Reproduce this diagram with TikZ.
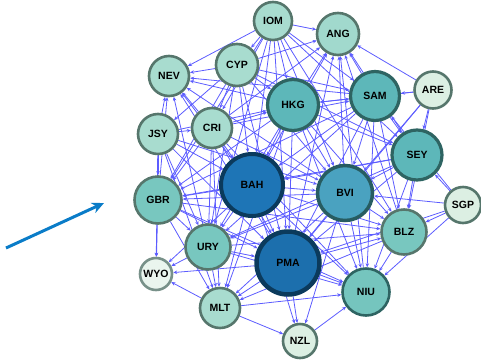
\documentclass[tikz,border=0pt]{standalone}
\usepackage{fontspec}
\setmainfont{Liberation Sans}
\usetikzlibrary{arrows.meta, backgrounds}

\definecolor{pale}{HTML}{DCEFE3}
\definecolor{mint}{HTML}{A8DCCF}
\definecolor{teal}{HTML}{78C7BF}
\definecolor{sea}{HTML}{5DB7B9}
\definecolor{ocean}{HTML}{4AA2C0}
\definecolor{deep}{HTML}{1E75B6}
\definecolor{rimlight}{HTML}{56766C}
\definecolor{rimmid}{HTML}{2E6462}
\definecolor{rimdeep}{HTML}{0B3A5C}
\definecolor{linkblue}{HTML}{5C5CFF}
\definecolor{pointer}{HTML}{0A7CC8}

\begin{document}
\begin{tikzpicture}[x=1pt, y=-1pt,
    country/.style={circle, draw=rimlight, line width=2.6pt, inner sep=0pt,
        font=\fontsize{10.5}{12}\selectfont\bfseries},
    link/.style={draw=linkblue, line width=0.8pt, -{Stealth[length=4pt, width=3.5pt]}}]
    \useasboundingbox (0,0) rectangle (481,362);

    \node[country, fill=mint, minimum size=38pt] (IOM) at (273,21) {IOM};
    \node[country, fill=mint!85!teal, minimum size=42pt] (ANG) at (338,34) {ANG};
    \node[country, fill=mint, minimum size=42pt] (CYP) at (237,65) {CYP};
    \node[country, fill=mint, minimum size=40pt] (NEV) at (169,76) {NEV};
    \node[country, fill=sea, draw=rimmid, line width=3.2pt, minimum size=51pt] (HKG) at (293,105) {HKG};
    \node[country, fill=sea, draw=rimmid, line width=3.2pt, minimum size=49pt] (SAM) at (375,96) {SAM};
    \node[country, fill=pale, minimum size=37pt] (ARE) at (433,90) {ARE};
    \node[country, fill=mint, minimum size=40pt] (JSY) at (158,134) {JSY};
    \node[country, fill=mint, minimum size=40pt] (CRI) at (212,128) {CRI};
    \node[country, fill=sea, draw=rimmid, line width=3.2pt, minimum size=50pt] (SEY) at (417,155) {SEY};
    \node[country, fill=deep, draw=rimdeep, line width=4pt, minimum size=62pt] (BAH) at (252,185) {BAH};
    \node[country, fill=ocean, draw=rimmid!80!rimdeep, line width=3.5pt, minimum size=55pt] (BVI) at (345,193) {BVI};
    \node[country, fill=teal, minimum size=47pt] (GBR) at (158,200) {GBR};
    \node[country, fill=pale, minimum size=36pt] (SGP) at (463,205) {SGP};
    \node[country, fill=teal, minimum size=45pt] (BLZ) at (404,232) {BLZ};
    \node[country, fill=teal, minimum size=45pt] (URY) at (208,247) {URY};
    \node[country, fill=pale!60!white, draw=rimlight!80!white, minimum size=32pt] (WYO) at (156,274) {WYO};
    \node[country, fill=deep!95!black, draw=rimdeep, line width=4.5pt, minimum size=63pt] (PMA) at (288,263) {PMA};
    \node[country, fill=teal!90!sea, draw=rimmid, minimum size=47pt] (NIU) at (366,292) {NIU};
    \node[country, fill=mint, minimum size=40pt] (MLT) at (220,308) {MLT};
    \node[country, fill=pale, minimum size=34pt] (NZL) at (300,341) {NZL};

    \begin{scope}[on background layer]
        \foreach \a/\b in {IOM/NEV, IOM/ANG, IOM/CYP, IOM/HKG, IOM/SAM, IOM/BAH, IOM/BVI,
            IOM/CRI, IOM/PMA, IOM/SEY, IOM/GBR, IOM/URY, IOM/BLZ, CYP/NEV, CYP/ANG,
            CYP/HKG, CYP/CRI, CYP/BAH, CYP/BVI, CYP/SAM, CYP/PMA, CYP/JSY, CYP/GBR,
            CYP/URY, CYP/SEY, HKG/ANG, SAM/ANG, ARE/ANG, BAH/ANG, BVI/ANG, PMA/ANG,
            SEY/ANG, CRI/ANG, BLZ/ANG, NIU/ANG, ARE/SAM, ARE/SEY, ARE/BVI, ARE/HKG,
            ARE/BLZ, ARE/PMA, JSY/NEV, CRI/NEV, HKG/NEV, BAH/NEV, SAM/NEV, BVI/NEV,
            PMA/NEV, GBR/NEV, URY/NEV, JSY/GBR, JSY/CRI, JSY/BAH, JSY/HKG, JSY/PMA,
            JSY/MLT, JSY/BVI, JSY/URY, JSY/WYO, CRI/HKG, CRI/BAH, CRI/BVI, CRI/PMA,
            CRI/SAM, CRI/GBR, CRI/URY, CRI/MLT, CRI/NIU, HKG/SAM, HKG/BAH, HKG/BVI,
            HKG/PMA, HKG/SEY, HKG/BLZ, HKG/GBR, HKG/URY, HKG/NIU, HKG/MLT, SAM/BAH,
            SAM/BVI, SAM/SEY, SAM/PMA, SAM/BLZ, SAM/GBR, SAM/NIU, SAM/URY, SEY/BVI,
            SEY/BAH, SEY/PMA, SEY/BLZ, SEY/NIU, SEY/GBR, SEY/URY, SGP/SEY, SGP/BLZ,
            SGP/BVI, SGP/NIU, SGP/PMA, SGP/SAM, BAH/BVI, BAH/PMA, BAH/GBR, BAH/URY,
            BAH/MLT, BAH/WYO, BAH/NIU, BAH/BLZ, BAH/NZL, BVI/PMA, BVI/BLZ, BVI/NIU,
            BVI/GBR, BVI/URY, BVI/MLT, BVI/NZL, GBR/WYO, GBR/URY, GBR/MLT, GBR/PMA,
            GBR/NIU, GBR/BLZ, URY/WYO, URY/MLT, URY/PMA, URY/NIU, URY/BLZ, PMA/WYO,
            PMA/MLT, PMA/NIU, PMA/NZL, PMA/BLZ, BLZ/NIU, BLZ/MLT, MLT/NIU, NZL/NIU,
            MLT/NZL, MLT/WYO}
            \draw[link] (\a) -- (\b);
    \end{scope}

    \coordinate (tail) at (6,248);
    \coordinate (head) at (104,203);
    \draw[pointer, line width=3pt, -{Stealth[length=12pt, width=11pt]}] (tail) -- (head);
\end{tikzpicture}
\end{document}
